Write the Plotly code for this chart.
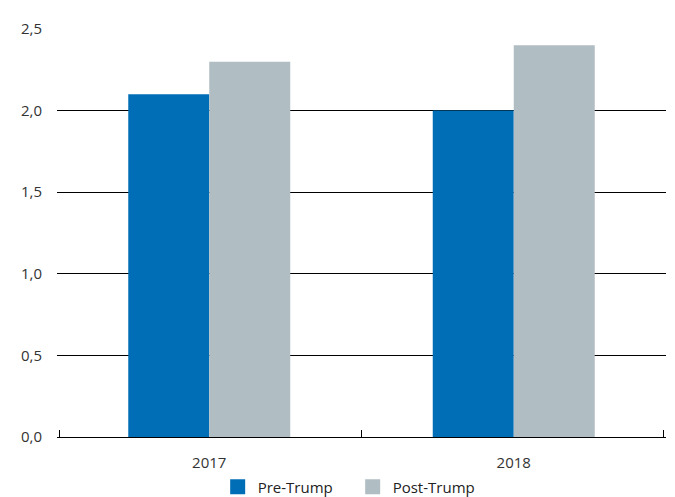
import plotly.graph_objects as go

categories = ["2017", "2018"]
pre_trump = [2.1, 2.0]
post_trump = [2.3, 2.4]
series_names = ["Pre-Trump", "Post-Trump"]
colors = ["#006EB6", "#B0BEC3"]
y_ticks = [0, 0.5, 1.0, 1.5, 2.0, 2.5]
boundary_ticks = [-0.5, 0.5, 1.5]

fig = go.Figure()
for vals, name, col in zip([pre_trump, post_trump], series_names, colors):
    fig.add_trace(go.Bar(x=categories, y=vals, name=name, showlegend=False,
                         marker=dict(color=col, line=dict(width=0))))
# legend entries with larger square swatches
for name, col in zip(series_names, colors):
    fig.add_trace(go.Scatter(x=[None], y=[None], mode="markers", name=name,
                             marker=dict(symbol="square", size=15, color=col)))
# invisible trace so the boundary-tick axis is drawn
fig.add_trace(go.Scatter(x=boundary_ticks, y=[None] * 3, xaxis="x2", mode="markers",
                         showlegend=False, hoverinfo="skip"))

fig.update_layout(
    width=675, height=497,
    margin=dict(l=57, r=9, t=29, b=60, autoexpand=False),
    paper_bgcolor="white", plot_bgcolor="white",
    barmode="group", bargap=0.468, bargroupgap=0,
    separators=", ",
    font=dict(family="Open Sans, Noto Sans, sans-serif", size=15, color="#333333"),
    showlegend=True,
    legend=dict(orientation="h", x=0.4855, xanchor="center", yref="container",
                y=0.02, yanchor="middle", entrywidth=90, entrywidthmode="pixels",
                font=dict(size=15, color="#222222"), itemsizing="trace",
                tracegroupgap=0, itemwidth=30),
    xaxis=dict(type="category", ticks="", showline=True, linecolor="#000000",
               linewidth=1, showgrid=False, zeroline=False,
               tickfont=dict(size=15, color="#333333"),
               ticklabelstandoff=12, automargin=False),
    xaxis2=dict(overlaying="x", anchor="y", range=[-0.507, 1.507], tickvals=boundary_ticks,
                ticks="inside", ticklen=7, tickwidth=1.2, tickcolor="#000000",
                showticklabels=False, showgrid=False, zeroline=False, showline=False,
                side="bottom", automargin=False),
    yaxis=dict(range=[0, 2.5], tickvals=y_ticks, tickformat=".1f", showgrid=True,
               gridcolor="#000000", gridwidth=1, zeroline=False, showline=False,
               ticks="", ticklabelstandoff=14, automargin=False,
               tickfont=dict(size=15, color="#333333")),
)

fig.write_html("out.html", config={"displayModeBar": False},
               post_script="document.body.style.margin='0';")
